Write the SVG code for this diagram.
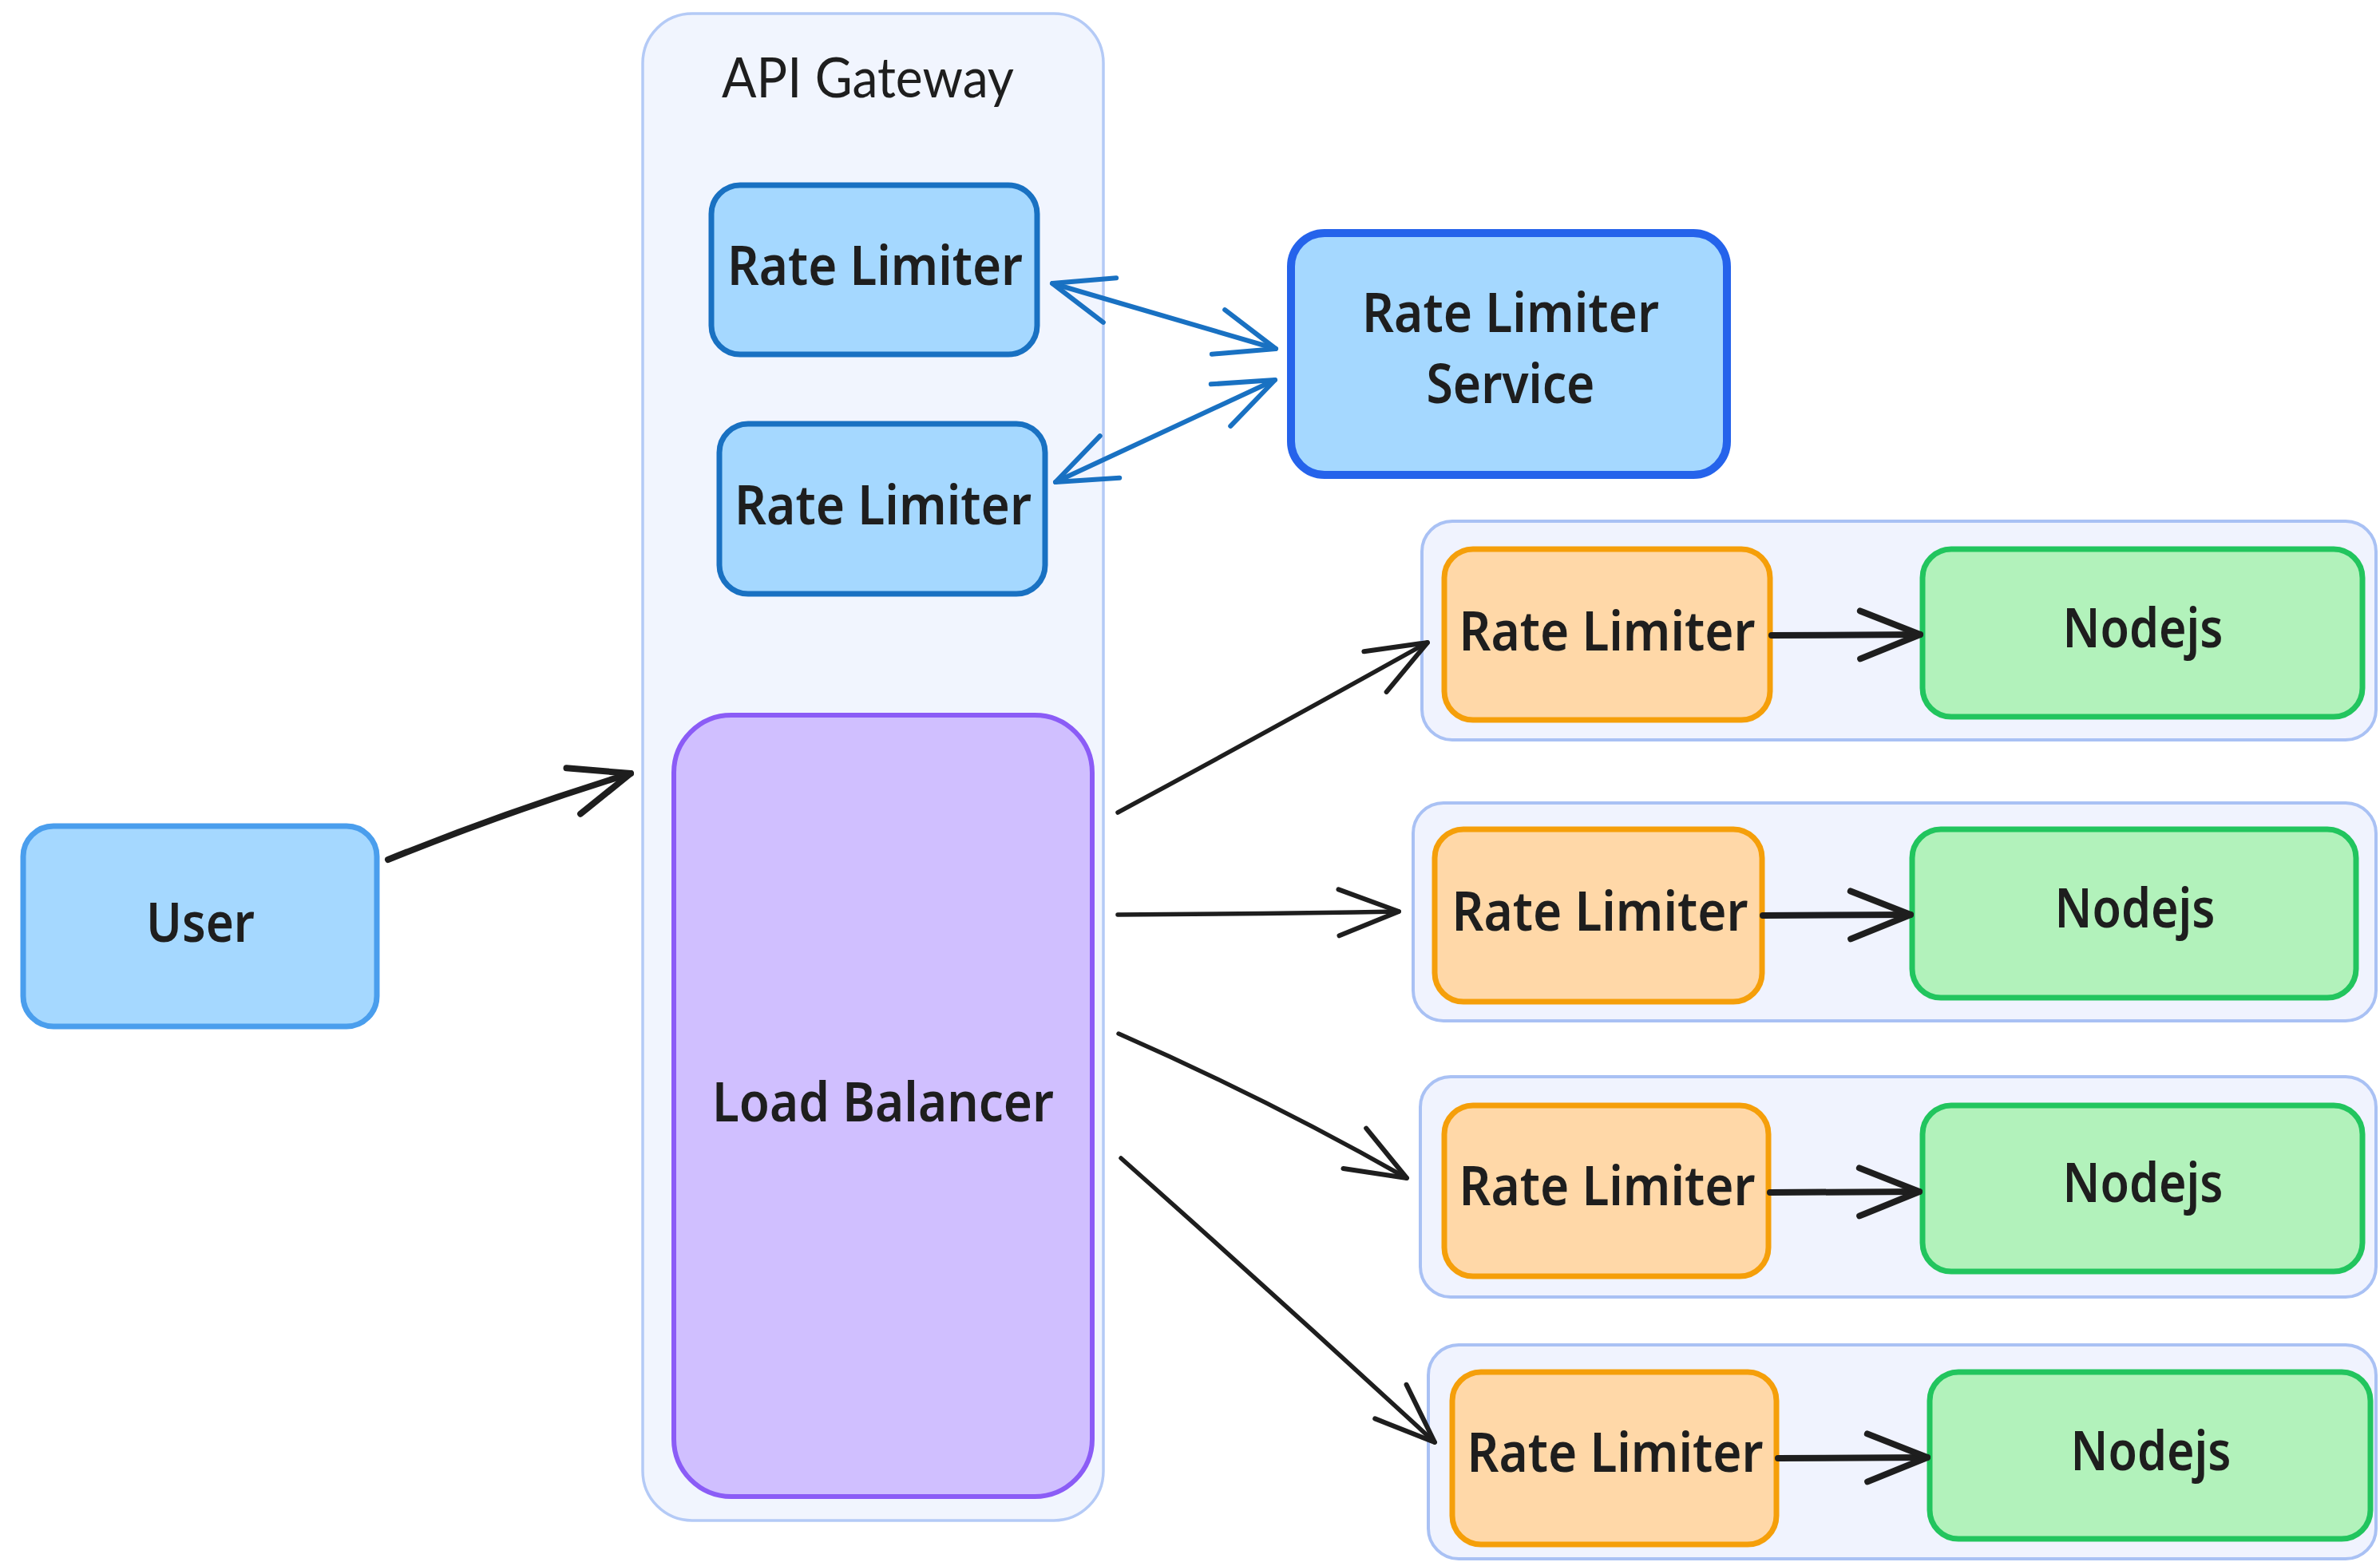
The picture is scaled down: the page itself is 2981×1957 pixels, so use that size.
<svg xmlns="http://www.w3.org/2000/svg" width="2981" height="1957" viewBox="0 0 2981 1957">
<style>
  .bg { fill: #ffffff; }
  .cont { fill: #f0f3fe; stroke: #a9c1f4; stroke-width: 4; }
  .gw { fill: #f1f5fe; stroke: #b4caf6; stroke-width: 3.5; }
  .rl { fill: #a5d8ff; stroke: #1971c2; stroke-width: 7; }
  .rls { fill: #a5d8ff; stroke: #2563eb; stroke-width: 10; }
  .user { fill: #a5d8ff; stroke: #4a9eed; stroke-width: 7; }
  .lb { fill: #d0bfff; stroke: #8b5cf6; stroke-width: 6; }
  .orl { fill: #ffd8a8; stroke: #f59f0a; stroke-width: 7; }
  .node { fill: #b2f2bb; stroke: #22c55e; stroke-width: 7; }
  .hand { font-family: "Noto Sans", "DejaVu Sans", sans-serif; font-size: 68px; fill: #1e1e1e; text-anchor: middle; font-weight: 600; }
  .title { font-family: Lato, "Noto Sans", sans-serif; font-size: 70px; fill: #1e1e1e; text-anchor: middle; }
  .arr { fill: none; stroke: #1e1e1e; stroke-width: 5.5; stroke-linecap: round; }
  .arrthick { fill: none; stroke: #1e1e1e; stroke-width: 8; stroke-linecap: round; }
  .barr { fill: none; stroke: #1971c2; stroke-width: 6; stroke-linecap: round; }
</style>
<defs>
  <marker id="hk" markerUnits="userSpaceOnUse" orient="auto" refX="0" refY="0" overflow="visible" markerWidth="1" markerHeight="1">
    <path d="M-75,-29 L0,0 L-75,29" fill="none" stroke="#1e1e1e" stroke-width="6" stroke-linecap="round" stroke-linejoin="round"/>
  </marker>
  <marker id="hk2" markerUnits="userSpaceOnUse" orient="auto" refX="0" refY="0" overflow="visible" markerWidth="1" markerHeight="1">
    <path d="M-75,-30 L0,0 L-75,30" fill="none" stroke="#1e1e1e" stroke-width="8" stroke-linecap="round" stroke-linejoin="round"/>
  </marker>
  <marker id="hb" markerUnits="userSpaceOnUse" orient="auto-start-reverse" refX="0" refY="0" overflow="visible" markerWidth="1" markerHeight="1">
    <path d="M-75,-29 L0,0 L-75,29" fill="none" stroke="#1971c2" stroke-width="6" stroke-linecap="round" stroke-linejoin="round"/>
  </marker>
</defs>
<rect class="bg" x="0" y="0" width="2981" height="1957"/>

<g id="api-gateway">
  <rect class="gw" x="805" y="17" width="577" height="1888" rx="62"/>
  <text class="title" x="1087" y="122" textLength="366" lengthAdjust="spacingAndGlyphs">API Gateway</text>
</g>

<g id="rate-limiter-1">
  <rect class="rl" x="891" y="232" width="408" height="212" rx="36"/>
  <text class="hand" x="1096" y="357" textLength="370" lengthAdjust="spacingAndGlyphs">Rate Limiter</text>
</g>

<g id="rate-limiter-2">
  <rect class="rl" x="901" y="531" width="408" height="213" rx="36"/>
  <text class="hand" x="1106" y="657" textLength="372" lengthAdjust="spacingAndGlyphs">Rate Limiter</text>
</g>

<g id="rate-limiter-service">
  <rect class="rls" x="1617" y="292" width="546" height="303" rx="42"/>
  <text class="hand" x="1892" y="416" textLength="372" lengthAdjust="spacingAndGlyphs">Rate Limiter</text>
  <text class="hand" x="1892" y="505" textLength="211" lengthAdjust="spacingAndGlyphs">Service</text>
</g>

<g id="user">
  <rect class="user" x="29" y="1035" width="443" height="251" rx="38"/>
  <text class="hand" x="251" y="1180" textLength="136" lengthAdjust="spacingAndGlyphs">User</text>
</g>

<g id="load-balancer">
  <rect class="lb" x="844" y="896" width="524" height="979" rx="72"/>
  <text class="hand" x="1106" y="1405" textLength="428" lengthAdjust="spacingAndGlyphs">Load Balancer</text>
</g>

<g id="service-1">
  <rect class="cont" x="1781" y="653" width="1195" height="274" rx="38"/>
  <g id="service-1-rate-limiter">
    <rect class="orl" x="1809" y="688" width="408" height="214" rx="36"/>
    <text class="hand" x="2013" y="815" textLength="371" lengthAdjust="spacingAndGlyphs">Rate Limiter</text>
  </g>
  <g id="service-1-nodejs">
    <rect class="node" x="2408" y="688" width="551" height="210" rx="36"/>
    <text class="hand" x="2684" y="811" textLength="201" lengthAdjust="spacingAndGlyphs">Nodejs</text>
  </g>
</g>

<g id="service-2">
  <rect class="cont" x="1770" y="1006" width="1206" height="273" rx="38"/>
  <g id="service-2-rate-limiter">
    <rect class="orl" x="1797" y="1039" width="410" height="216" rx="36"/>
    <text class="hand" x="2004" y="1166" textLength="371" lengthAdjust="spacingAndGlyphs">Rate Limiter</text>
  </g>
  <g id="service-2-nodejs">
    <rect class="node" x="2395" y="1039" width="556" height="211" rx="36"/>
    <text class="hand" x="2674" y="1162" textLength="201" lengthAdjust="spacingAndGlyphs">Nodejs</text>
  </g>
</g>

<g id="service-3">
  <rect class="cont" x="1779" y="1349" width="1197" height="276" rx="38"/>
  <g id="service-3-rate-limiter">
    <rect class="orl" x="1809" y="1385" width="406" height="214" rx="36"/>
    <text class="hand" x="2013" y="1510" textLength="371" lengthAdjust="spacingAndGlyphs">Rate Limiter</text>
  </g>
  <g id="service-3-nodejs">
    <rect class="node" x="2408" y="1385" width="551" height="208" rx="36"/>
    <text class="hand" x="2684" y="1506" textLength="201" lengthAdjust="spacingAndGlyphs">Nodejs</text>
  </g>
</g>

<g id="service-4">
  <rect class="cont" x="1789" y="1685" width="1187" height="268" rx="38"/>
  <g id="service-4-rate-limiter">
    <rect class="orl" x="1819" y="1719" width="406" height="216" rx="36"/>
    <text class="hand" x="2023" y="1844" textLength="371" lengthAdjust="spacingAndGlyphs">Rate Limiter</text>
  </g>
  <g id="service-4-nodejs">
    <rect class="node" x="2417" y="1719" width="552" height="209" rx="36"/>
    <text class="hand" x="2694" y="1842" textLength="201" lengthAdjust="spacingAndGlyphs">Nodejs</text>
  </g>
</g>

<g id="connectors">
  <path class="arrthick" d="M486,1077 Q640,1015 790,969" marker-end="url(#hk2)"/>
  <path class="barr" d="M1318,355 L1598,437" marker-start="url(#hb)" marker-end="url(#hb)"/>
  <path class="barr" d="M1322,604 L1597,476" marker-start="url(#hb)" marker-end="url(#hb)"/>
  <path class="arr" d="M1400,1018 Q1600,910 1788,805" marker-end="url(#hk)"/>
  <path class="arr" d="M1400,1146 Q1580,1145 1752,1142" marker-end="url(#hk)"/>
  <path class="arr" d="M1401,1295 Q1590,1378 1762,1476" marker-end="url(#hk)"/>
  <path class="arr" d="M1404,1451 Q1600,1625 1797,1807" marker-end="url(#hk)"/>
  <path class="arrthick" d="M2219,796 L2405,795" marker-end="url(#hk2)"/>
  <path class="arrthick" d="M2208,1147 L2393,1146" marker-end="url(#hk2)"/>
  <path class="arrthick" d="M2217,1494 L2404,1493" marker-end="url(#hk2)"/>
  <path class="arrthick" d="M2227,1827 L2414,1826" marker-end="url(#hk2)"/>
</g>
</svg>
